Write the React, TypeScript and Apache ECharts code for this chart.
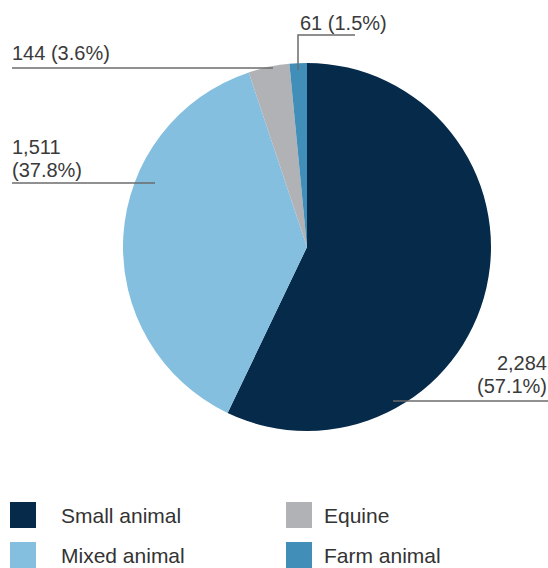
import React, { useEffect, useRef } from "react";
import * as echarts from "echarts";

const categories = ["Small animal", "Mixed animal", "Equine", "Farm animal"];
const values = [2284, 1511, 144, 61];
const colors = ["#062a4a", "#84bfdf", "#b1b2b6", "#418eb8"];

// label layout (positions in px, not data)
const labelLayoutCfg = [
  { x: 547, y: 374, align: "right", multiline: true, line: [[393, 401], [470, 401], [548, 401]] },
  { x: 12, y: 158, align: "left", multiline: true, line: [[155, 183], [80, 183], [12, 183]] },
  { x: 12, y: 53, align: "left", multiline: false, line: [[273, 68], [140, 68], [12, 68]] },
  { x: 300, y: 23, align: "left", multiline: false, line: [[298, 70], [298, 35], [355, 35]] },
];

const FONT = "'Liberation Sans', Arial, sans-serif";

export default function App() {
  const ref = useRef<HTMLDivElement>(null);
  useEffect(() => {
    if (!ref.current) return;
    const chart = echarts.init(ref.current, undefined, { renderer: "svg" });
    const data = categories.map((name, i) => ({
      name,
      value: values[i],
      itemStyle: { color: colors[i] },
    }));
    const labelData = categories.map((name, i) => ({
      name,
      value: values[i],
      itemStyle: { color: "rgba(0,0,0,0)" },
    }));
    const legendCommon = {
      orient: "vertical",
      top: 502,
      icon: "rect",
      itemWidth: 26,
      itemHeight: 26,
      itemGap: 14,
      padding: 0,
      selectedMode: false,
    };
    chart.setOption({
      animation: false,
      backgroundColor: "#ffffff",
      legend: [
        {
          ...legendCommon,
          left: 10,
          data: [0, 1].map((i) => ({ name: categories[i], itemStyle: { color: colors[i] } })),
          textStyle: { fontSize: 21, color: "#333333", fontFamily: FONT, padding: [3, 0, 0, 20] },
        },
        {
          ...legendCommon,
          left: 286,
          data: [2, 3].map((i) => ({ name: categories[i], itemStyle: { color: colors[i] } })),
          textStyle: { fontSize: 21, color: "#333333", fontFamily: FONT, padding: [3, 0, 0, 7] },
        },
      ],
      series: [
        {
          type: "pie",
          center: [307, 247],
          radius: [0, 184],
          startAngle: 90,
          clockwise: true,
          data,
          z: 2,
          itemStyle: { borderWidth: 0 },
          emphasis: { disabled: true },
          label: { show: false },
          labelLine: { show: false },
        },
        {
          type: "pie",
          center: [307, 247],
          radius: [0, 184],
          startAngle: 90,
          clockwise: true,
          percentPrecision: 1,
          data: labelData,
          z: 5,
          silent: true,
          itemStyle: { borderWidth: 0 },
          emphasis: { disabled: true },
          label: {
            show: true,
            position: "outside",
            overflow: "none",
            edgeDistance: 0,
            fontSize: 20,
            lineHeight: 23,
            color: "#3a3a3a",
            fontFamily: FONT,
            formatter: (p: any) => {
              const cfg = labelLayoutCfg[p.dataIndex];
              const v = Number(p.value).toLocaleString("en-US");
              const pct = "(" + Number(p.percent).toFixed(1) + "%)";
              return cfg.multiline ? v + "\n" + pct : v + " " + pct;
            },
          },
          labelLine: {
            show: true,
            showAbove: true,
            length: 5,
            length2: 5,
            lineStyle: { color: "#6b6b6b", width: 1.5 },
          },
          labelLayout: (p: any) => {
            const cfg = labelLayoutCfg[p.dataIndex];
            return {
              x: cfg.x,
              y: cfg.y,
              align: cfg.align,
              verticalAlign: "middle",
              labelLinePoints: cfg.line,
            };
          },
        },
      ],
    });
    return () => chart.dispose();
  }, []);
  return (
    <div
      ref={ref}
      style={{ position: "fixed", left: 0, top: 0, width: 548, height: 568 }}
    />
  );
}
